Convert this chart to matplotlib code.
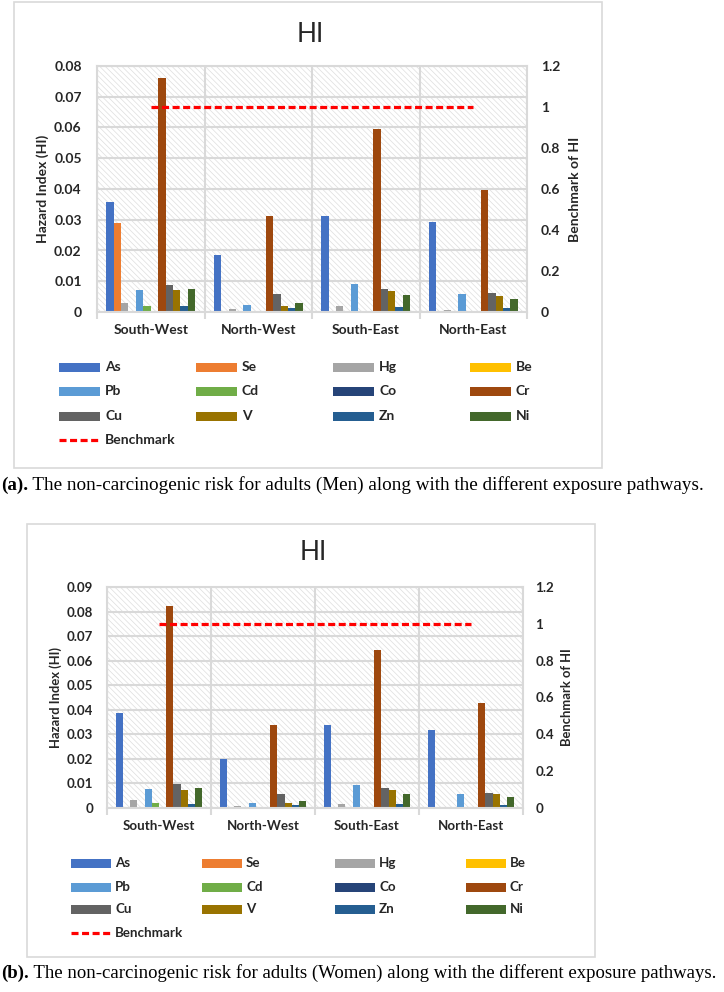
import matplotlib
matplotlib.use("Agg")
import matplotlib.pyplot as plt
from matplotlib.patches import Rectangle
from matplotlib.lines import Line2D
import numpy as np

plt.rcParams['font.family'] = ['Lato', 'DejaVu Sans']
plt.rcParams['hatch.linewidth'] = 0.5

# ---------------- data ----------------
regions = ['South-West', 'North-West', 'South-East', 'North-East']
metals = ['As', 'Se', 'Hg', 'Be', 'Pb', 'Cd', 'Co', 'Cr', 'Cu', 'V', 'Zn', 'Ni']
colors = ['#4472C4', '#ED7D31', '#A5A5A5', '#FFC000', '#5B9BD5', '#70AD47',
          '#264478', '#9E480E', '#636363', '#997300', '#255E91', '#43682B']

men_As = [0.0359, 0.0184, 0.0312, 0.0292]
men_Se = [0.0291, 0.0000, 0.0001, 0.0001]
men_Hg = [0.0030, 0.0009, 0.0018, 0.0005]
men_Be = [0.0004, 0.0001, 0.0004, 0.0002]
men_Pb = [0.0072, 0.0023, 0.0090, 0.0058]
men_Cd = [0.0020, 0.0001, 0.0001, 0.0001]
men_Co = [0.0002, 0.0001, 0.0002, 0.0001]
men_Cr = [0.0761, 0.0312, 0.0596, 0.0397]
men_Cu = [0.0089, 0.0057, 0.0075, 0.0061]
men_V = [0.0070, 0.0021, 0.0068, 0.0053]
men_Zn = [0.0018, 0.0012, 0.0016, 0.0014]
men_Ni = [0.0076, 0.0030, 0.0054, 0.0041]

women_As = [0.0386, 0.0199, 0.0337, 0.0316]
women_Se = [0.0000, 0.0000, 0.0000, 0.0000]
women_Hg = [0.0031, 0.0007, 0.0018, 0.0004]
women_Be = [0.0001, 0.0000, 0.0001, 0.0000]
women_Pb = [0.0078, 0.0022, 0.0095, 0.0059]
women_Cd = [0.0019, 0.0001, 0.0001, 0.0001]
women_Co = [0.0002, 0.0001, 0.0002, 0.0001]
women_Cr = [0.0822, 0.0337, 0.0644, 0.0427]
women_Cu = [0.0097, 0.0059, 0.0080, 0.0063]
women_V = [0.0075, 0.0022, 0.0072, 0.0056]
women_Zn = [0.0018, 0.0012, 0.0015, 0.0012]
women_Ni = [0.0080, 0.0030, 0.0056, 0.0044]

benchmark = [1, 1, 1, 1]

men_ticks = [0, 0.01, 0.02, 0.03, 0.04, 0.05, 0.06, 0.07, 0.08]
men_ticklabels = ['0', '0.01', '0.02', '0.03', '0.04', '0.05', '0.06', '0.07', '0.08']
women_ticks = [0, 0.01, 0.02, 0.03, 0.04, 0.05, 0.06, 0.07, 0.08, 0.09]
women_ticklabels = ['0', '0.01', '0.02', '0.03', '0.04', '0.05', '0.06', '0.07', '0.08', '0.09']
bench_ticks = [0, 0.2, 0.4, 0.6, 0.8, 1.0, 1.2]
bench_ticklabels = ['0', '0.2', '0.4', '0.6', '0.8', '1', '1.2']

title = 'HI'
ylabel_left = 'Hazard Index (HI)'
ylabel_right = 'Benchmark of HI'
legend_bench = 'Benchmark'
caption_a = ('(a).', ' The non-carcinogenic risk for adults (Men) along with the different exposure pathways.')
caption_b = ('(b).', ' The non-carcinogenic risk for adults (Women) along with the different exposure pathways.')

men_series = [men_As, men_Se, men_Hg, men_Be, men_Pb, men_Cd, men_Co, men_Cr, men_Cu, men_V, men_Zn, men_Ni]
women_series = [women_As, women_Se, women_Hg, women_Be, women_Pb, women_Cd, women_Co, women_Cr,
                women_Cu, women_V, women_Zn, women_Ni]

# ---------------- figure ----------------
W, H = 724, 992
fig = plt.figure(figsize=(W / 100, H / 100), dpi=100)
fig.patch.set_facecolor('white')
GRID = '#d9d9d9'
TXT = '#262626'


def fx(px):
    return px / W


def fy(py):
    return 1 - py / H


def panel(frame, plot, series, ticks, ticklabels, ymax, title_y, cat_pad,
          lab_left_x, lab_right_x, legend_rows, legend_cols, patch_w, text_off,
          caption, caption_y, tick_fs, lab_fs, lpad, rpad, cap_fs):
    fl, ft, fr, fb = frame
    fig.add_artist(Rectangle((fx(fl), fy(fb)), fx(fr - fl), (fb - ft) / H,
                             transform=fig.transFigure, facecolor='white',
                             edgecolor=GRID, lw=1.2, zorder=0))
    pl, pt, pr, pb = plot
    ax = fig.add_axes([fx(pl), fy(pb), fx(pr - pl), (pb - pt) / H])
    ax.set_facecolor('white')
    ax.add_patch(Rectangle((0, 0), 1, 1, transform=ax.transAxes, facecolor='white',
                           edgecolor='#dedede', lw=0, hatch='\\' * 6, zorder=0))
    x = np.arange(len(regions))
    n = len(metals)
    bw = 0.069
    for i, (vals, c) in enumerate(zip(series, colors)):
        ax.bar(x + (i - (n - 1) / 2) * bw, vals, width=bw, color=c, zorder=2,
               linewidth=0)
    ax.set_xlim(-0.5, len(regions) - 0.5)
    ax.set_ylim(0, ymax)
    ax.set_yticks(ticks)
    ax.set_yticklabels(ticklabels)
    ax.set_xticks(x)
    ax.set_xticklabels(regions)
    ax.set_xticks(np.arange(-0.5, len(regions), 1.0), minor=True)
    ax.tick_params(axis='x', which='major', length=0, pad=cat_pad, labelsize=tick_fs)
    ax.tick_params(axis='x', which='minor', length=5, width=1.5, color=GRID, direction='out')
    ax.tick_params(axis='y', length=0, pad=lpad, labelsize=tick_fs)
    for lab in ax.get_xticklabels() + ax.get_yticklabels():
        lab.set_fontweight('bold')
        lab.set_color(TXT)
    ax.set_axisbelow(True)
    ax.grid(axis='y', which='major', color=GRID, lw=1.5, zorder=0.5)
    ax.grid(axis='x', which='minor', color=GRID, lw=1.5, zorder=0.5)
    for s in ax.spines.values():
        s.set_color(GRID)
        s.set_linewidth(1.5)

    ax2 = ax.twinx()
    ax2.plot(x, benchmark, color='#FF0000', lw=2.3, dashes=(2.2, 1.1), zorder=5)
    ax2.set_ylim(0, 1.2)
    ax2.set_yticks(bench_ticks)
    ax2.set_yticklabels(bench_ticklabels)
    ax2.tick_params(axis='y', length=0, pad=rpad, labelsize=tick_fs)
    for lab in ax2.get_yticklabels():
        lab.set_fontweight('bold')
        lab.set_color(TXT)
    for s in ax2.spines.values():
        s.set_visible(False)

    cy = (pt + pb) / 2
    fig.text(fx((fl + fr) / 2 + 2), fy(title_y), title, ha='center', va='center',
             fontsize=19, color=TXT)
    fig.text(fx(lab_left_x), fy(cy), ylabel_left, rotation=90, ha='center', va='center',
             fontsize=lab_fs, fontweight='bold', color=TXT)
    fig.text(fx(lab_right_x), fy(cy), ylabel_right, rotation=90, ha='center', va='center',
             fontsize=lab_fs, fontweight='bold', color=TXT)

    # legend (row-wise like Excel)
    ph = 9
    for k, (m, c) in enumerate(zip(metals, colors)):
        r, cc = divmod(k, 4)
        px0 = legend_cols[cc]
        py0 = legend_rows[r]
        fig.add_artist(Rectangle((fx(px0), fy(py0 + ph / 2)), fx(patch_w), ph / H,
                                 transform=fig.transFigure, facecolor=c, edgecolor='none'))
        fig.text(fx(px0 + text_off), fy(py0), m, ha='left', va='center', fontsize=tick_fs,
                 fontweight='bold', color=TXT)
    px0 = legend_cols[0]
    py0 = legend_rows[3]
    fig.add_artist(Line2D([fx(px0), fx(px0 + patch_w)], [fy(py0), fy(py0)],
                          transform=fig.transFigure, color='#FF0000', lw=2.3,
                          dashes=(2.2, 1.1)))
    fig.text(fx(px0 + text_off), fy(py0), legend_bench, ha='left', va='center',
             fontsize=tick_fs, fontweight='bold', color=TXT)

    # caption
    r = fig.canvas.get_renderer()
    t1 = fig.text(fx(1), fy(caption_y), caption[0], ha='left', va='center',
                  fontsize=cap_fs, fontweight='bold', family='Liberation Serif')
    bb = t1.get_window_extent(renderer=r)
    fig.text(bb.x1 / W, fy(caption_y), caption[1], ha='left', va='center',
             fontsize=cap_fs, family='Liberation Serif')
    return ax


panel(frame=(14, 2, 602, 468), plot=(97, 66, 527, 312), series=men_series,
      ticks=men_ticks, ticklabels=men_ticklabels, ymax=0.08, title_y=34, cat_pad=9,
      lab_left_x=43, lab_right_x=575, legend_rows=[367, 391, 416, 440],
      legend_cols=[59, 196, 333, 470], patch_w=41, text_off=46,
      caption=caption_a, caption_y=485, tick_fs=10, lab_fs=10, lpad=11, rpad=10,
      cap_fs=13.8)

panel(frame=(27, 524, 595, 957), plot=(107, 587, 523, 808), series=women_series,
      ticks=women_ticks, ticklabels=women_ticklabels, ymax=0.09, title_y=553, cat_pad=9,
      lab_left_x=56, lab_right_x=567, legend_rows=[863, 887, 909, 933],
      legend_cols=[71, 202, 335, 466], patch_w=40, text_off=44,
      caption=caption_b, caption_y=973, tick_fs=9.6, lab_fs=9.4, lpad=10, rpad=9,
      cap_fs=13.5)

fig.savefig('out.png', dpi=100, facecolor='white')
